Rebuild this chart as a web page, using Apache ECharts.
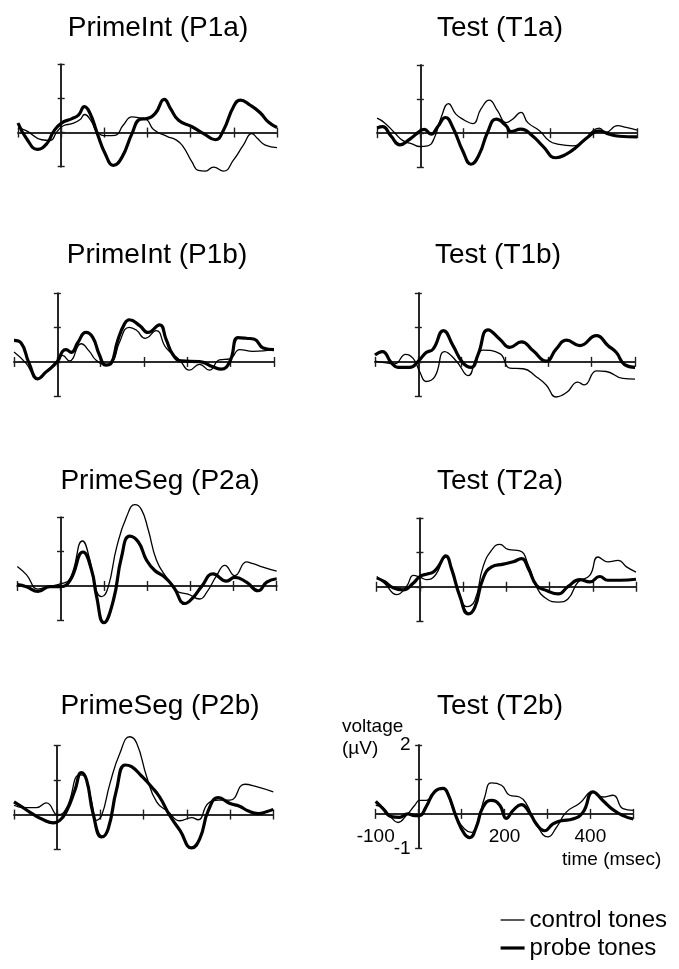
<!DOCTYPE html>
<html><head><meta charset="utf-8">
<script src="https://cdn.jsdelivr.net/npm/echarts@6/dist/echarts.min.js"></script>
<style>html,body{margin:0;padding:0;background:#fff}#c{width:679px;height:969px}</style>
</head><body><div id="c"></div>
<script>
// ---------- DATA (time in ms, voltage in µV) ----------
const panelTitles = ['PrimeInt (P1a)', 'Test (T1a)', 'PrimeInt (P1b)', 'Test (T1b)',
                     'PrimeSeg (P2a)', 'Test (T2a)', 'PrimeSeg (P2b)', 'Test (T2b)'];
const seriesNames = ['control tones', 'probe tones'];
const xTicks = [-100, 0, 100, 200, 300, 400, 500];
const yTicks = [-1, 0, 1, 2];
const xTickLabels = ['-100', '200', '400'];
const yTickLabels = ['-1', '2'];

const P1a_control_t = [-100,-80,-45,-25,-10,5,25,44,54,70,83,106,125,144,164,183,198,214,245,268,283,303,318,334,353,376,399,422,442,453,473,500];
const P1a_control_v = [0.14,0.05,-0.21,-0.23,0.02,0.2,0.26,0.38,0.53,0.33,0.02,-0.09,-0.08,0.22,0.46,0.43,0.38,0.09,-0.11,-0.23,-0.42,-0.86,-1.11,-1.13,-1.01,-1.13,-0.81,-0.37,-0.03,-0.15,-0.37,-0.44];
const P1a_probe_t = [-100,-80,-55,-33,-18,0,25,40,54,67,83,102,121,141,164,183,198,218,239,253,272,303,330,357,376,399,415,438,461,480,500];
const P1a_probe_v = [0.28,-0.18,-0.49,-0.32,0.02,0.27,0.41,0.51,0.76,0.56,0,-0.62,-0.96,-0.72,-0.03,0.39,0.41,0.56,0.97,0.71,0.36,0.17,-0.03,-0.21,0.07,0.75,0.95,0.8,0.58,0.31,0.15];

const T1a_control_t = [-100,-83,-60,-41,-18,-2,17,32,48,65,82,102,121,140,159,178,198,213,232,248,275,298,317,352,375,398,413,428,455,475,500];
const T1a_control_v = [0.44,0.31,0.02,-0.21,-0.32,-0.39,-0.37,-0.15,0.46,0.87,0.56,0.38,0.28,0.71,0.97,0.66,0.31,0.41,0.61,0.31,0.07,-0.23,-0.32,-0.37,-0.25,0.07,0.15,0.02,0.22,0.17,0.09];
const T1a_probe_t = [-100,-87,-68,-47,-25,0,9,25,40,58,75,98,117,136,155,175,198,209,232,259,282,313,336,359,390,413,436,459,500];
const T1a_probe_v = [0.15,0.19,-0.08,-0.34,-0.18,0.07,0.11,-0.03,0.19,0.46,0.17,-0.52,-0.91,-0.62,0.02,0.41,0.22,0.05,0.12,-0.08,-0.37,-0.72,-0.62,-0.42,-0.08,0.07,-0.03,-0.09,-0.11];

const P1b_control_t = [-100,-72,-45,-22,0,12,28,55,74,89,112,128,143,166,182,203,228,251,282,305,328,351,374,398,421,451,500];
const P1b_control_v = [0.29,-0.04,-0.49,-0.24,0.03,0.19,0.03,0.53,0.31,0.06,-0.07,0.01,0.56,1.01,0.93,0.69,0.91,0.41,0.06,-0.24,-0.07,-0.24,0.06,0.09,0.36,0.31,0.36];
const P1b_probe_t = [-100,-84,-65,-45,-26,0,12,20,32,47,66,82,97,112,124,139,155,166,190,209,236,251,267,286,328,359,378,398,417,436,455,475,500];
const P1b_probe_v = [0.63,0.56,-0.04,-0.49,-0.29,0.01,0.31,0.36,0.28,0.56,0.86,0.71,0.21,-0.09,-0.04,0.61,1.11,1.23,1.06,0.86,1.08,0.66,0.21,0.03,0.01,-0.14,-0.21,0.01,0.71,0.69,0.66,0.41,0.36];

const T1b_control_t = [-100,-74,-55,-29,-12,3,18,38,61,88,115,134,149,188,211,242,272,295,318,342,368,383,411,434,472,500];
const T1b_control_v = [0.02,-0.03,-0.06,0.22,0.1,-0.28,-0.57,-0.43,0.3,0.02,-0.4,0.12,0.34,0.24,-0.18,-0.2,-0.43,-0.67,-1.02,-0.89,-0.59,-0.67,-0.26,-0.28,-0.48,-0.5];
const T1b_probe_t = [-100,-83,-62,-47,-20,0,18,34,58,80,103,122,138,161,188,211,238,265,295,318,342,372,411,438,457,476,500];
const T1b_probe_v = [0.2,0.3,-0.03,-0.16,-0.16,0.02,0.27,0.37,0.91,0.47,-0.03,-0.16,0.22,0.93,0.66,0.42,0.58,0.32,0.02,0.37,0.63,0.47,0.76,0.47,0.27,-0.08,-0.16];

const P2a_control_t = [-100,-79,-52,-29,0,22,51,68,83,95,110,130,153,172,187,203,222,245,268,295,322,338,361,380,403,430,445,468,500];
const P2a_control_v = [0.57,0.33,-0.09,-0.02,0.06,0.21,1.31,0.75,-0.14,-0.31,-0.04,1.14,2.02,2.37,2.23,1.63,0.75,0.25,-0.14,-0.24,-0.38,-0.19,0.3,0.6,0.3,0.7,0.65,0.55,0.43];
const P2a_probe_t = [-100,-79,-52,-25,0,22,52,72,83,100,122,141,160,180,199,218,240,261,288,307,326,353,384,403,430,457,477,500];
const P2a_probe_v = [0.04,-0.02,-0.16,-0.02,-0.02,0.16,0.99,0.45,-0.28,-1.07,-0.43,0.84,1.45,1.28,0.75,0.45,0.27,-0.02,-0.51,-0.33,-0.02,0.35,0.14,0.25,0.11,-0.14,0.11,0.21];

const T2a_control_t = [-100,-81,-54,-31,-15,0,15,35,60,77,93,108,127,146,166,185,204,231,251,270,293,320,343,366,393,412,435,459,478,500];
const T2a_control_v = [0.3,0.09,-0.23,0.01,0.33,0.28,0.21,0.33,0.87,0.38,-0.3,-0.58,-0.4,0.58,1.07,1.24,1.09,1.05,0.63,-0.01,-0.35,-0.45,-0.35,0.14,0.33,0.87,0.73,0.77,0.58,0.43];
const T2a_probe_t = [-100,-81,-62,-39,-15,0,19,31,42,60,73,93,112,127,146,166,193,216,235,251,270,293,320,343,370,393,416,435,463,500];
const T2a_probe_v = [0.26,0.14,-0.03,-0.09,0.11,0.3,0.38,0.43,0.58,0.9,0.53,-0.3,-0.79,-0.6,0.24,0.58,0.66,0.73,0.82,0.53,0.04,-0.11,-0.21,0.01,0.21,0.14,0.3,0.19,0.19,0.22];

const P2b_control_t = [-100,-79,-48,-25,2,22,52,64,79,91,103,122,145,168,184,207,230,257,284,311,326,349,373,400,434,461,500];
const P2b_control_v = [0.27,0.2,0.2,0.34,-0.02,0.2,1.15,1.1,0.42,-0.17,-0.02,0.9,1.78,2.26,2.07,1.1,0.37,0.08,-0.18,-0.09,-0.15,0.32,0.42,0.42,0.88,0.81,0.66];
const P2b_probe_t = [-100,-79,-56,-32,-9,6,22,41,56,68,83,103,118,137,157,172,195,218,237,260,284,311,330,350,373,400,422,441,465,484,500];
const P2b_probe_v = [0.37,0.2,0.01,-0.15,-0.24,-0.17,0.11,0.71,1.22,1.0,0.03,-0.65,-0.41,0.71,1.44,1.39,1.12,0.81,0.51,-0.02,-0.46,-0.97,-0.7,0.13,0.49,0.32,0.24,0.11,0.03,0.08,0.15];

const T2b_control_t = [-100,-83,-64,-48,-29,-9,2,18,37,57,68,88,107,123,138,154,169,193,212,235,251,274,301,321,344,375,406,429,453,476,500];
const T2b_control_v = [0.25,0.18,-0.1,-0.25,-0.05,0.25,0.39,0.39,0.64,0.74,0.54,-0.1,-0.44,-0.54,-0.2,0.49,0.9,0.83,0.54,0.49,0.29,-0.29,-0.67,-0.39,0.05,0.31,0.64,0.49,0.54,0.15,0.1];
const T2b_probe_t = [-100,-83,-64,-44,-25,-9,2,18,37,57,68,88,107,119,134,150,169,189,204,220,239,259,274,293,313,332,359,383,406,429,453,476,500];
const T2b_probe_v = [0.36,0.15,-0.08,-0.1,0,-0.05,-0.05,0.22,0.64,0.74,0.59,-0.1,-0.59,-0.69,-0.39,0.2,0.39,0.25,-0.13,0.1,0.27,0.02,-0.29,-0.49,-0.29,-0.2,-0.15,0.05,0.64,0.39,0.12,-0.05,-0.15];

// ---------- LAYOUT ----------
const FONT = '"Liberation Sans", Arial, Helvetica, sans-serif';
const AXC = '#1e1e1e';
const layout = [
  {left:18,    top:64.3,  width:259,   height:102.4, tx:158, ty:28},
  {left:377,   top:65,    width:260,   height:102.3, tx:500, ty:28},
  {left:14,    top:293.3, width:260,   height:103,   tx:157, ty:255},
  {left:375,   top:293,   width:260,   height:103.3, tx:498, ty:255},
  {left:17.3,  top:517.3, width:259.4, height:103,   tx:160, ty:481},
  {left:376.7, top:518.3, width:259.3, height:102.7, tx:500, ty:481},
  {left:14,    top:745.7, width:259.3, height:103.3, tx:160, ty:706},
  {left:375.7, top:745,   width:257.6, height:103.3, tx:500, ty:706}
];
const panelData = [
  [P1a_control_t, P1a_control_v, P1a_probe_t, P1a_probe_v],
  [T1a_control_t, T1a_control_v, T1a_probe_t, T1a_probe_v],
  [P1b_control_t, P1b_control_v, P1b_probe_t, P1b_probe_v],
  [T1b_control_t, T1b_control_v, T1b_probe_t, T1b_probe_v],
  [P2a_control_t, P2a_control_v, P2a_probe_t, P2a_probe_v],
  [T2a_control_t, T2a_control_v, T2a_probe_t, T2a_probe_v],
  [P2b_control_t, P2b_control_v, P2b_probe_t, P2b_probe_v],
  [T2b_control_t, T2b_control_v, T2b_probe_t, T2b_probe_v]
];
const zip = (t, v) => t.map((x, i) => [x, v[i]]);
const N = layout.length;

const xMin = xTicks[0], xMax = xTicks[xTicks.length-1];
const yMin = yTicks[0], yMax = yTicks[yTicks.length-1];
const xInterval = xTicks[1] - xTicks[0];
const yInterval = yTicks[1] - yTicks[0];

const grid = layout.map(l => ({left:l.left, top:l.top, width:l.width, height:l.height}));
const xAxis = [], yAxis = [], series = [];
for (let pass = 0; pass < 2; pass++) {
  for (let i = 0; i < N; i++) {
    const l = layout[i];
    const labelled = (pass === 0 && i === N - 1);
    // move each axis from the grid edge onto the zero line of the other axis
    const xOff = -l.height * (0 - yMin) / (yMax - yMin);
    const yOff = -l.width * (0 - xMin) / (xMax - xMin);
    xAxis.push({
      type:'value', gridIndex:i, position:'bottom', offset:xOff,
      min:xMin, max:xMax, interval:xInterval,
      axisLine:{show:true, onZero:false, lineStyle:{color:AXC, width:1.6}},
      axisTick:{show:true, inside:pass===1, length:5, lineStyle:{color:AXC, width:1.4}},
      splitLine:{show:false},
      axisLabel:{show:labelled, margin:13, color:'#000', fontSize:19, fontFamily:FONT,
        formatter: v => xTickLabels.includes(String(v)) ? String(v) : ''}
    });
    yAxis.push({
      type:'value', gridIndex:i, position:'left', offset:yOff,
      min:yMin, max:yMax, interval:yInterval,
      axisLine:{show:true, onZero:false, lineStyle:{color:AXC, width:1.6}},
      axisTick:{show:true, inside:pass===1, length:3.5, lineStyle:{color:AXC, width:1.4}},
      splitLine:{show:false},
      axisLabel:{show:labelled, margin:8, color:'#000', fontSize:19, fontFamily:FONT,
        formatter: v => yTickLabels.includes(String(v)) ? String(v) : ''}
    });
  }
}
for (let i = 0; i < N; i++) {
  const d = panelData[i];
  series.push({
    type:'line', name:seriesNames[0], xAxisIndex:i, yAxisIndex:i, data:zip(d[0], d[1]),
    smooth:0.5, symbol:'none', showSymbol:false, clip:false, z:3,
    lineStyle:{color:'#000', width:1.3}, itemStyle:{color:'#000'}
  });
  series.push({
    type:'line', name:seriesNames[1], xAxisIndex:i, yAxisIndex:i, data:zip(d[2], d[3]),
    smooth:0.5, symbol:'none', showSymbol:false, clip:false, z:4,
    lineStyle:{color:'#000', width:3.2}, itemStyle:{color:'#000'}
  });
}
const graphic = layout.map((l, i) => ({
  type:'text', x:l.tx, y:l.ty,
  style:{text:panelTitles[i], fill:'#000', font:'28px ' + FONT, align:'center', verticalAlign:'middle'}
}));
graphic.push({type:'text', x:342, y:727, style:{text:'voltage', fill:'#000', font:'19px ' + FONT, align:'left', verticalAlign:'middle'}});
graphic.push({type:'text', x:342, y:749, style:{text:'(µV)', fill:'#000', font:'19px ' + FONT, align:'left', verticalAlign:'middle'}});
graphic.push({type:'text', x:562, y:860, style:{text:'time (msec)', fill:'#000', font:'19px ' + FONT, align:'left', verticalAlign:'middle'}});

const chart = echarts.init(document.getElementById('c'), null, {renderer:'canvas'});
chart.setOption({
  animation:false,
  backgroundColor:'#fff',
  grid, xAxis, yAxis, series, graphic,
  legend:{
    orient:'vertical', left:494, top:903, itemWidth:24, itemHeight:14, itemGap:4,
    itemStyle:{color:'rgba(0,0,0,0)', borderWidth:0},
    textStyle:{fontSize:24, color:'#000', fontFamily:FONT},
    data:[
      {name:seriesNames[0], lineStyle:{width:1.3, color:'#000'}},
      {name:seriesNames[1], lineStyle:{width:3.2, color:'#000'}}
    ],
    selectedMode:false
  }
});
</script></body></html>
